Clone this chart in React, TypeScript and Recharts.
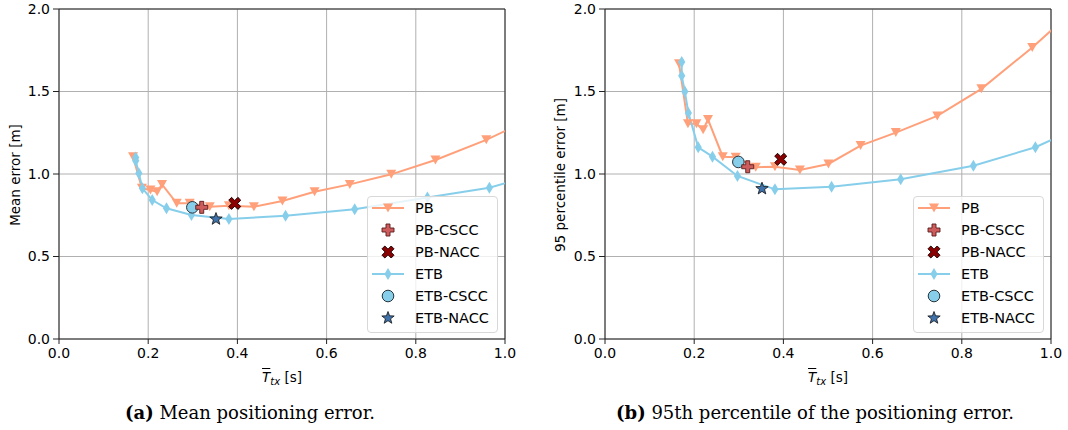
import React from "react"
import { ComposedChart, Line, Scatter, XAxis, YAxis, CartesianGrid, ReferenceLine } from "recharts"

// mean transmission interval Ttx [s] of the parameter sweep (last point lies past the axis and gets clipped)
const pbTx = [0.166, 0.186, 0.205, 0.22, 0.231, 0.264, 0.293, 0.338, 0.381, 0.437, 0.501, 0.573, 0.652, 0.745, 0.844, 0.958, 1.07]
const pbMeanErr = [1.105, 0.913, 0.903, 0.892, 0.937, 0.822, 0.822, 0.801, 0.807, 0.801, 0.836, 0.892, 0.937, 0.998, 1.085, 1.207, 1.35]
const pbP95Err = [1.668, 1.304, 1.304, 1.268, 1.33, 1.105, 1.101, 1.041, 1.044, 1.024, 1.061, 1.172, 1.251, 1.352, 1.516, 1.767, 2.04]

const etbTx = [0.172, 0.172, 0.179, 0.187, 0.209, 0.241, 0.297, 0.381, 0.508, 0.663, 0.826, 0.965, 1.11]
const etbMeanErr = [1.1, 1.08, 1.004, 0.913, 0.842, 0.792, 0.751, 0.727, 0.747, 0.787, 0.858, 0.917, 1.03]
const etbP95Err = [1.679, 1.595, 1.5, 1.369, 1.162, 1.105, 0.988, 0.907, 0.923, 0.968, 1.05, 1.162, 1.34]

// single operating points: PB-CSCC, PB-NACC, ETB-CSCC, ETB-NACC
const specialTx = [0.32, 0.394, 0.299, 0.352]
const specialMeanErr = [0.798, 0.822, 0.798, 0.727]
const specialP95Err = [1.044, 1.089, 1.073, 0.911]

const legendNames = ["PB", "PB-CSCC", "PB-NACC", "ETB", "ETB-CSCC", "ETB-NACC"]
const xTicks = [0, 0.2, 0.4, 0.6, 0.8, 1.0]
const yTicks = [0, 0.5, 1.0, 1.5, 2.0]

const PB_COLOR = "#ffa07a"
const ETB_COLOR = "#87ceeb"
const FONT = '"DejaVu Sans", sans-serif'

const TriDown = ({ cx, cy }: any) => (
  <polygon points={`${cx - 5},${cy - 4.5} ${cx + 5},${cy - 4.5} ${cx},${cy + 4.5}`} fill={PB_COLOR} />
)

const Diamond = ({ cx, cy }: any) => (
  <polygon points={`${cx},${cy - 6} ${cx + 3.6},${cy} ${cx},${cy + 6} ${cx - 3.6},${cy}`} fill={ETB_COLOR} />
)

const crossPoints = (cx: number, cy: number, s: number, t: number) =>
  [
    [-t, -s], [t, -s], [t, -t], [s, -t], [s, t], [t, t],
    [t, s], [-t, s], [-t, t], [-s, t], [-s, -t], [-t, -t],
  ]
    .map(([dx, dy]) => `${cx + dx},${cy + dy}`)
    .join(" ")

const PlusMark = ({ cx, cy }: any) => (
  <polygon points={crossPoints(cx, cy, 6, 2)} fill="#cd5c5c" stroke="#5a1c1c" strokeWidth={0.9} />
)

const XMark = ({ cx, cy }: any) => (
  <polygon
    points={crossPoints(cx, cy, 6.5, 2)}
    transform={`rotate(45 ${cx} ${cy})`}
    fill="#8b0000"
    stroke="#1a0000"
    strokeWidth={0.9}
  />
)

const CircleMark = ({ cx, cy }: any) => (
  <circle cx={cx} cy={cy} r={5.8} fill={ETB_COLOR} stroke="#26343c" strokeWidth={1} />
)

const StarMark = ({ cx, cy }: any) => {
  const pts: string[] = []
  for (let i = 0; i < 10; i++) {
    const r = i % 2 === 0 ? 6.5 : 2.7
    const a = -Math.PI / 2 + (i * Math.PI) / 5
    pts.push(`${cx + r * Math.cos(a)},${cy + r * Math.sin(a)}`)
  }
  return <polygon points={pts.join(" ")} fill="#3f72aa" stroke="#111" strokeWidth={0.8} />
}

const specialShapes = [PlusMark, XMark, CircleMark, StarMark]
// drawing order: circle and star first, then plus and x on top
const specialOrder = [2, 3, 0, 1]

function Panel({ left, pbErr, etbErr, specialErr }: any) {
  const pbData = pbTx.map((x, i) => ({ x, y: pbErr[i] }))
  const etbData = etbTx.map((x, i) => ({ x, y: etbErr[i] }))
  const tick = { fill: "#000", fontSize: 14, fontFamily: FONT }

  return (
    <div style={{ position: "absolute", left, top: 0 }}>
      <ComposedChart width={521} height={363} margin={{ top: 9, right: 16, left: 0, bottom: 0 }}>
        <CartesianGrid stroke="#b0b0b0" strokeWidth={1} />
        <XAxis
          type="number"
          dataKey="x"
          domain={[0, 1]}
          ticks={xTicks}
          interval={0}
          allowDataOverflow
          tickFormatter={(v: number) => v.toFixed(1)}
          tick={tick}
          tickSize={5}
          tickMargin={4}
          tickLine={{ stroke: "#222" }}
          axisLine={{ stroke: "#222" }}
          height={24}
        />
        <YAxis
          type="number"
          domain={[0, 2]}
          ticks={yTicks}
          interval={0}
          allowDataOverflow
          tickFormatter={(v: number) => v.toFixed(1)}
          tick={tick}
          tickSize={6}
          tickMargin={3}
          tickLine={{ stroke: "#222" }}
          axisLine={{ stroke: "#222" }}
          width={59}
        />
        <ReferenceLine y={2} stroke="#222" />
        <ReferenceLine x={1} stroke="#222" />
        <Line
          data={pbData}
          dataKey="y"
          stroke={PB_COLOR}
          strokeWidth={2}
          dot={(p: any) => <TriDown key={`pb${p.index}`} cx={p.cx} cy={p.cy} />}
          activeDot={false}
          isAnimationActive={false}
        />
        <Line
          data={etbData}
          dataKey="y"
          stroke={ETB_COLOR}
          strokeWidth={2}
          dot={(p: any) => <Diamond key={`etb${p.index}`} cx={p.cx} cy={p.cy} />}
          activeDot={false}
          isAnimationActive={false}
        />
        {specialOrder.map((k) => {
          const Shape = specialShapes[k]
          return (
            <Scatter
              key={k}
              data={[{ x: specialTx[k], y: specialErr[k] }]}
              dataKey="y"
              shape={(p: any) => <Shape cx={p.cx} cy={p.cy} />}
              isAnimationActive={false}
            />
          )
        })}
      </ComposedChart>
    </div>
  )
}

function LegendBox({ left, width }: any) {
  const handles = [
    <g>
      <line x1={4} y1={11} x2={36} y2={11} stroke={PB_COLOR} strokeWidth={2} />
      <TriDown cx={20} cy={11} />
    </g>,
    <PlusMark cx={20} cy={11} />,
    <XMark cx={20} cy={11} />,
    <g>
      <line x1={4} y1={11} x2={36} y2={11} stroke={ETB_COLOR} strokeWidth={2} />
      <Diamond cx={20} cy={11} />
    </g>,
    <CircleMark cx={20} cy={11} />,
    <StarMark cx={20} cy={11} />,
  ]
  return (
    <div
      style={{
        position: "absolute",
        left,
        top: 196,
        width,
        height: 137,
        boxSizing: "border-box",
        border: "1px solid #d8d8d8",
        borderRadius: 4,
        background: "rgba(255,255,255,0.8)",
      }}
    >
      {legendNames.map((name, i) => (
        <div
          key={name}
          style={{ position: "absolute", left: 0, top: 0.3 + i * 21.9, height: 22, display: "flex", alignItems: "center" }}
        >
          <svg width={47} height={22}>
            {handles[i]}
          </svg>
          <span style={{ fontFamily: FONT, fontSize: 14.5, color: "#000", whiteSpace: "nowrap" }}>{name}</span>
        </div>
      ))}
    </div>
  )
}

const yLabelStyle: React.CSSProperties = {
  position: "absolute",
  top: 175,
  transform: "translate(-50%, -50%) rotate(-90deg)",
  whiteSpace: "nowrap",
  fontFamily: FONT,
  fontSize: 13.5,
}

const xLabelStyle: React.CSSProperties = {
  position: "absolute",
  top: 378,
  transform: "translate(-50%, -50%)",
  whiteSpace: "nowrap",
  fontFamily: FONT,
  fontSize: 13.5,
  lineHeight: "16px",
}

const captionStyle: React.CSSProperties = {
  position: "absolute",
  top: 412,
  transform: "translate(-50%, -50%)",
  whiteSpace: "nowrap",
  fontFamily: '"DejaVu Serif", serif',
  fontSize: 18,
}

const XLabel = ({ left }: any) => (
  <div style={{ ...xLabelStyle, left }}>
    <span style={{ fontStyle: "italic", textDecoration: "overline" }}>T</span>
    <span style={{ fontStyle: "italic", fontSize: 10, position: "relative", top: 3 }}>tx</span> [s]
  </div>
)

export default function App() {
  return (
    <div style={{ position: "absolute", left: 0, top: 0, width: 1068, height: 430, background: "#fff" }}>
      <Panel left={0} pbErr={pbMeanErr} etbErr={etbMeanErr} specialErr={specialMeanErr} />
      <Panel left={546} pbErr={pbP95Err} etbErr={etbP95Err} specialErr={specialP95Err} />
      <LegendBox left={367} width={131} />
      <LegendBox left={913} width={131} />
      <div style={{ ...yLabelStyle, left: 15 }}>Mean error [m]</div>
      <div style={{ ...yLabelStyle, left: 560 }}>95 percentile error [m]</div>
      <XLabel left={282} />
      <XLabel left={828} />
      <div style={{ ...captionStyle, left: 250 }}>
        <b>(a)</b> Mean positioning error.
      </div>
      <div style={{ ...captionStyle, left: 815 }}>
        <b>(b)</b> 95th percentile of the positioning error.
      </div>
    </div>
  )
}
